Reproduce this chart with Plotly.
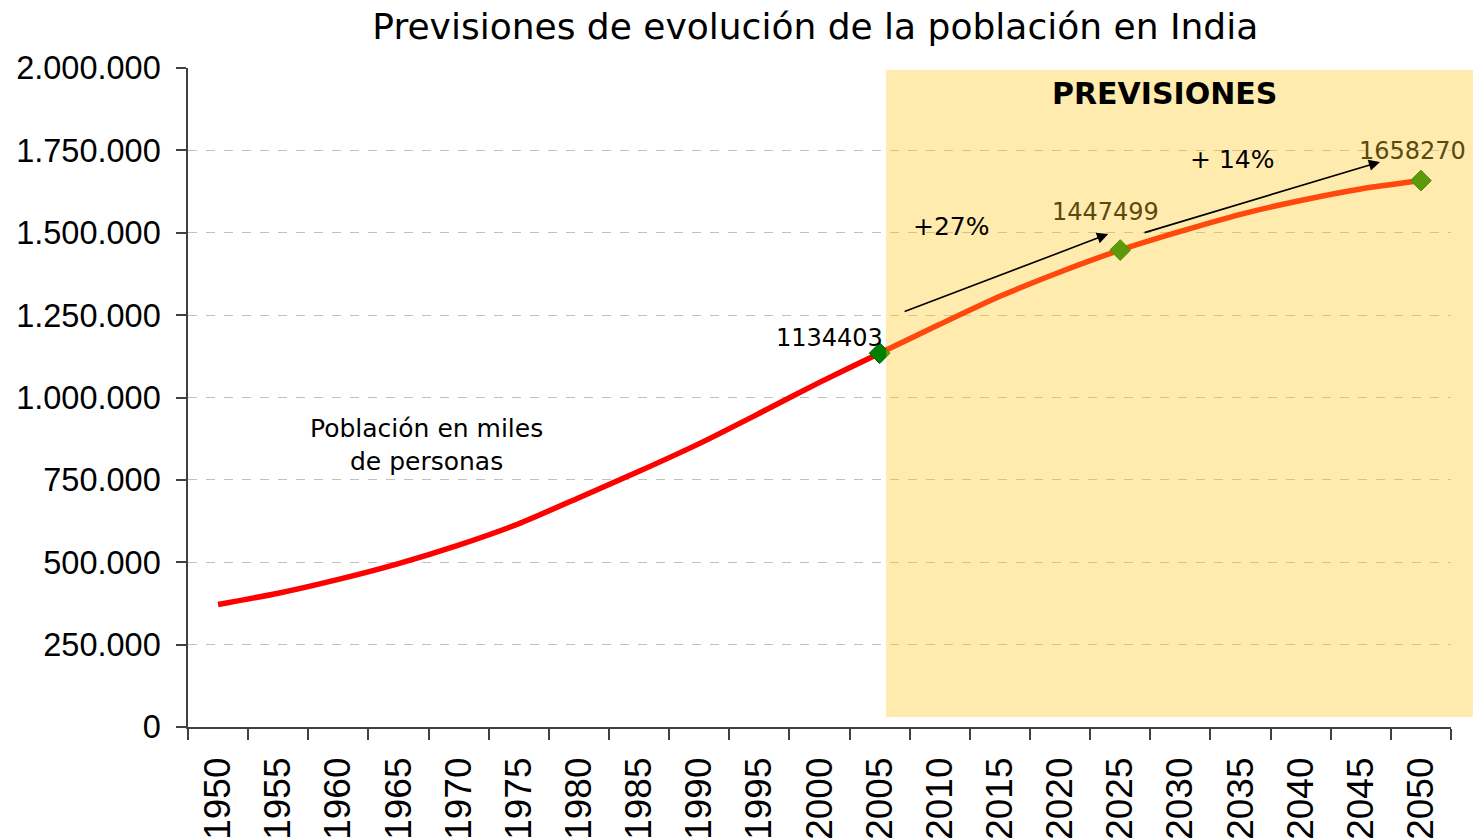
import plotly.graph_objects as go

# Population of India, thousands of people (UN projections from 2010 onwards)
years = ["1950", "1955", "1960", "1965", "1970", "1975", "1980", "1985", "1990",
         "1995", "2000", "2005", "2010", "2015", "2020", "2025", "2030", "2035",
         "2040", "2045", "2050"]
population = [372000, 406000, 448000, 496000, 552000, 617000, 696000, 776000,
              860000, 952000, 1046000, 1134403, 1222000, 1307000, 1381000,
              1447499, 1504000, 1556000, 1598000, 1633000, 1658270]

# Highlighted years with value labels
key_years = ["2005", "2025", "2050"]
key_values = [population[years.index(y)] for y in key_years]

y_ticks = [0, 250000, 500000, 750000, 1000000, 1250000, 1500000, 1750000, 2000000]
y_tick_text = ["0", "250.000", "500.000", "750.000", "1.000.000", "1.250.000",
               "1.500.000", "1.750.000", "2.000.000"]

TXT = "DejaVu Sans"
TICK = "Liberation Sans"

fig = go.Figure()

fig.add_trace(go.Scatter(
    x=years, y=population, mode="lines",
    line=dict(color="#FF0000", width=5.5, shape="spline", smoothing=0.6),
    hoverinfo="x+y", showlegend=False,
))
fig.add_trace(go.Scatter(
    x=key_years, y=key_values, mode="markers",
    marker=dict(symbol="diamond", size=16, color="#008000",
                line=dict(color="#006400", width=1)),
    showlegend=False,
))

# Forecast band (semi-transparent, over the series)
fig.add_shape(type="rect", xref="paper", yref="paper",
              x0=0.5527, x1=1.0174, y0=0.0152, y1=0.997,
              fillcolor="rgb(255,200,30)", opacity=0.36,
              line=dict(width=0), layer="above")

annotations = []
# value labels next to the highlighted points
label_style = [
    dict(xshift=5, yshift=15, xanchor="right", color="#000000"),
    dict(xshift=-15, yshift=38, xanchor="center", color="rgb(90,74,14)"),
    dict(xshift=-8, yshift=30, xanchor="center", color="rgb(90,74,14)"),
]
for yr, val, st in zip(key_years, key_values, label_style):
    annotations.append(dict(
        x=years.index(yr), y=val, xref="x", yref="y", text=str(val),
        showarrow=False, xanchor=st["xanchor"], yanchor="middle",
        xshift=st["xshift"], yshift=st["yshift"],
        font=dict(family=TXT, size=24, color=st["color"]),
    ))

# growth arrows
annotations.append(dict(
    x=14.80, y=1496000, ax=11.39, ay=1259000, xref="x", yref="y",
    axref="x", ayref="y", text="", showarrow=True,
    arrowhead=2, arrowsize=1.4, arrowwidth=1.6, arrowcolor="#000000",
))
annotations.append(dict(
    x=19.32, y=1715000, ax=15.38, ay=1499000, xref="x", yref="y",
    axref="x", ayref="y", text="", showarrow=True,
    arrowhead=2, arrowsize=1.4, arrowwidth=1.6, arrowcolor="#000000",
))
annotations.append(dict(
    x=12.19, y=1520000, xref="x", yref="y", text="+27%", showarrow=False,
    font=dict(family=TXT, size=25, color="#000000"),
))
annotations.append(dict(
    x=16.86, y=1721000, xref="x", yref="y", text="+ 14%", showarrow=False,
    font=dict(family=TXT, size=25, color="#000000"),
))
annotations.append(dict(
    x=15.73, y=1924000, xref="x", yref="y", text="<b>PREVISIONES</b>",
    showarrow=False, font=dict(family=TXT, size=30, color="#000000"),
))
annotations.append(dict(
    x=3.47, y=856000, xref="x", yref="y",
    text="Población en miles<br>de personas", showarrow=False,
    font=dict(family=TXT, size=25, color="#000000"), align="center",
))

fig.update_layout(
    width=1473, height=840,
    margin=dict(l=188, r=22, t=68, b=113),
    paper_bgcolor="white", plot_bgcolor="white",
    title=dict(text="Previsiones de evolución de la población en India",
               x=0.5535, xanchor="center", y=0.968, yanchor="middle",
               yref="container",
               font=dict(family=TXT, size=36, color="#000000")),
    annotations=annotations,
    showlegend=False,
)

fig.update_xaxes(
    type="category", range=[-0.5, 20.5], automargin=False,
    tickson="boundaries", ticks="outside", ticklen=11, tickwidth=1.5,
    tickcolor="#404040", showline=True, linecolor="#404040", linewidth=1.5,
    showgrid=False, tickangle=-90, ticklabelstandoff=14,
    tickfont=dict(family=TICK, size=37, color="#000000"),
)
fig.update_yaxes(
    range=[0, 2000000], tickvals=y_ticks, ticktext=y_tick_text,
    automargin=False,
    ticks="outside", ticklen=10, tickwidth=1.5, tickcolor="#404040",
    showline=True, linecolor="#404040", linewidth=1.5,
    showgrid=True, gridcolor="#C0C0C0", gridwidth=1, griddash="dash",
    zeroline=False, ticklabelstandoff=9,
    tickfont=dict(family=TICK, size=32.5, color="#000000"),
)

fig.write_html("out.html")
